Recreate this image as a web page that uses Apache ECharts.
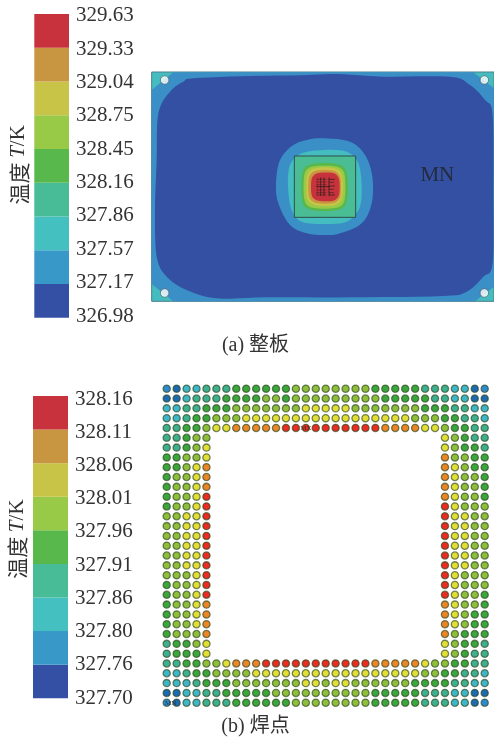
<!DOCTYPE html>
<html><head><meta charset="utf-8">
<style>html,body{margin:0;padding:0;background:#fff}#c{width:494px;height:737px}</style>
<script src="https://cdn.jsdelivr.net/npm/echarts@6/dist/echarts.min.js"></script>
</head><body><div id="c"></div>
<script>
// Colour-bar tick labels, top to bottom
var tickLabelsA = ['329.63','329.33','329.04','328.75','328.45','328.16','327.86','327.57','327.17','326.98'];
var tickLabelsB = ['328.16','328.11','328.06','328.01','327.96','327.91','327.86','327.80','327.76','327.70'];
var bandColors = ['#3450a4','#3898c8','#44c0c0','#48bc96','#58b84c','#98ca48','#c8c448','#c89640','#c8323c']; // cold to hot
var dotColors = ['#1d6ab2','#2e8bd0','#3fb6c8','#3fb08f','#3aa63c','#8fbe3a','#e2de36','#ec8525','#ea2c22'];
var bandSwatch = [1];
var solderTemps = [327.73,327.78,327.83,327.885,327.935,327.985,328.035,328.085,328.135]; // mid of each band

// Whole-board contours, in board units (outline of each temperature region)
var boardOutline = [[5,36],[1032,36],[1032,724],[5,724]];
var zoneBlueOuter = [[70,37],[970,37],[1032,85],[1032,680],[975,724],[70,724],[5,672],[5,90]];
var zoneDarkBlue = [[130,55],[300,48],[450,46],[560,42],[700,50],[900,50],[960,75],[1005,120],[1028,165],[1030,400],[1028,610],[1000,650],[950,695],[880,708],[600,712],[350,712],[200,715],[110,690],[50,650],[20,590],[15,450],[20,300],[25,160],[60,95],[100,65]];
var zoneBlueChip = [[523,235],[600,245],[645,285],[667,350],[665,430],[635,490],[570,520],[523,525],[470,520],[420,495],[385,430],[378,370],[390,300],[430,255],[480,238]];
var zoneCyanChip = [[523,270],[590,275],[625,310],[635,380],[628,445],[590,485],[523,492],[455,485],[425,450],[414,380],[420,315],[455,280]];
var zoneChipSquare = [[433,288],[617,288],[617,472],[433,472]];
var zoneGreen = [[500,310],[548,310],[580,320],[592,350],[592,412],[580,442],[548,452],[500,452],[467,442],[455,412],[455,350],[467,320]];
var zoneYellowGreen = [[500,318],[548,318],[575,327],[585,352],[585,410],[575,436],[548,445],[500,445],[472,436],[462,410],[462,352],[472,327]];
var zoneYellow = [[505,323],[545,323],[568,332],[578,355],[578,405],[568,428],[545,437],[505,437],[480,428],[470,405],[470,355],[480,332]];
var zoneOrange = [[505,331],[545,331],[563,339],[572,358],[572,403],[563,422],[545,430],[505,430],[485,422],[476,403],[476,358],[485,339]];
var zoneRed = [[510,338],[545,338],[560,345],[568,362],[568,400],[560,416],[545,423],[510,423],[492,416],[484,400],[484,362],[492,345]];
var boardHoles = [[44,60],[1003,60],[44,699],[1003,699]];
// Solder-mesh marks over the hot spot: x1,y1,x2,y2,alpha
var meshMarks = [[498,380,540,380,.9],[512,352,512,408,.85],[522,352,522,408,.85],[537,352,537,408,.95],
 [498,358,530,358,.5],[498,366,530,366,.5],[498,374,530,374,.45],[498,390,530,390,.5],[498,398,530,398,.5],[498,405,530,405,.5],
 [503,352,503,408,.35],[537,358,555,358,.8],[537,367,552,367,.7],[537,378,555,378,.8],[537,388,552,388,.7],[537,398,552,398,.7],[537,405,555,405,.8]];

// Solder-ball colour bands: outer rows (33 balls), then side columns (5 balls each)
var row0  = [1,0,2,2,3,3,3,4,4,4,4,4,4,5,5,5,5,5,5,5,5,4,4,4,4,4,3,3,3,2,2,0,1];
var row1  = [0,0,2,3,3,3,4,4,4,4,5,5,4,5,5,5,5,5,5,5,5,5,4,4,4,4,4,3,3,2,2,0,0];
var row2  = [2,2,3,3,4,4,4,5,5,5,5,5,5,5,6,6,6,6,6,5,5,5,5,5,5,5,4,4,4,3,3,2,2];
var row3  = [2,2,3,4,4,5,5,5,6,6,6,6,6,6,6,6,6,6,6,6,6,6,6,6,6,5,5,5,4,4,3,3,2];
var row4  = [3,3,4,4,5,6,6,7,7,7,7,7,8,8,8,8,8,8,8,8,8,8,7,7,7,7,6,6,5,4,4,3,3];
var row28 = [3,3,4,4,5,5,6,7,7,7,8,8,8,8,8,8,8,8,8,8,8,7,7,7,7,7,6,5,5,4,4,3,3];
var row29 = [2,2,3,4,4,5,5,5,5,6,6,6,6,6,6,6,6,6,6,6,6,6,6,6,6,6,5,5,4,4,3,3,2];
var row30 = [2,2,2,3,4,4,4,5,5,5,5,5,5,5,6,6,5,6,6,5,5,5,5,5,5,4,4,4,4,3,3,2,2];
var row31 = [0,0,2,2,3,3,4,4,4,4,4,5,5,5,5,5,5,5,5,5,5,4,4,4,4,4,3,3,3,2,2,0,0];
var row32 = [1,0,2,2,3,3,3,4,4,4,4,4,4,5,5,5,5,5,5,5,5,4,4,4,4,4,3,3,3,2,2,0,1];
var leftRows = [[3,3,4,5,5],[3,3,4,5,6],[4,4,5,5,6],[4,4,5,6,7],[4,5,5,6,7],[4,5,5,6,7],[4,5,5,6,8],[4,5,5,6,8],[5,5,6,6,8],[5,5,6,6,8],[5,5,6,6,8],[5,5,6,6,8],[5,5,6,6,8],[5,5,6,6,8],[5,5,5,6,8],[4,5,5,6,8],[4,5,5,6,8],[4,5,5,6,7],[4,5,5,6,7],[4,5,5,6,7],[4,5,5,5,7],[3,4,4,5,6],[3,4,4,4,6]];
var rightRows = [[6,5,4,3,3],[6,5,4,4,3],[7,5,5,4,4],[7,6,5,4,4],[7,6,5,5,4],[7,6,5,5,4],[7,6,5,5,4],[8,6,5,5,5],[8,6,6,5,5],[8,6,6,5,5],[8,6,6,5,5],[8,6,6,5,5],[8,6,6,5,5],[8,6,6,5,5],[8,6,5,5,5],[8,6,5,5,5],[8,6,5,5,4],[7,6,5,5,4],[7,6,5,4,4],[7,6,5,4,4],[7,5,4,4,4],[6,5,4,4,3],[6,5,4,3,3]];

var serif = '"Liberation Serif","Noto Sans CJK SC",serif';
var cjk = '"Noto Sans CJK SC","Liberation Serif",serif';
var textColor = '#333333';

var solderData = [];
function pushRow(cells, r, cStart){ cells.forEach(function(b,i){ solderData.push([cStart+i, r, solderTemps[b]]); }); }
[row0,row1,row2,row3,row4].forEach(function(c,i){ pushRow(c,i,0); });
leftRows.forEach(function(c,i){ pushRow(c,5+i,0); });
rightRows.forEach(function(c,i){ pushRow(c,5+i,28); });
[row28,row29,row30,row31,row32].forEach(function(c,i){ pushRow(c,28+i,0); });

var contourFill = [
 {pts:boardOutline, color:'#44bcc0', stroke:'#4d7f8c'},
 {pts:zoneBlueOuter, color:'#3a8fc6'},
 {pts:zoneDarkBlue, color:'#3350a3', curve:true},
 {pts:zoneBlueChip, color:'#3a8fc6', curve:true},
 {pts:zoneCyanChip, color:'#44bcc0', curve:true},
 {pts:zoneChipSquare, color:'#4abd94', stroke:'#2f4f48'},
 {pts:zoneGreen, color:'#58b84c', curve:true},
 {pts:zoneYellowGreen, color:'#98ca48', curve:true},
 {pts:zoneYellow, color:'#c8c448', curve:true},
 {pts:zoneOrange, color:'#c89640', curve:true},
 {pts:zoneRed, color:'#c8323c', curve:true}
];
// Closed curve through the read contour points (pixel space, after api.coord)
function closedCurve(p){
 var out=[],n=p.length;
 for(var i=0;i<n;i++){
  var a=p[(i-1+n)%n],b=p[i],c=p[(i+1)%n],d=p[(i+2)%n];
  for(var k=0;k<6;k++){
   var t=k/6,t2=t*t,t3=t2*t;
   out.push([
    .5*(2*b[0]+(c[0]-a[0])*t+(2*a[0]-5*b[0]+4*c[0]-d[0])*t2+(3*b[0]-a[0]-3*c[0]+d[0])*t3),
    .5*(2*b[1]+(c[1]-a[1])*t+(2*a[1]-5*b[1]+4*c[1]-d[1])*t2+(3*b[1]-a[1]-3*c[1]+d[1])*t3)
   ]);
  }
 }
 return out;
}

function hiddenX(i, min, max){ return {gridIndex:i,type:'value',min:min,max:max,show:false}; }

// grids: 0 bar a, 1 labels a, 2 board, 3 bar b, 4 labels b, 5 balls
var grid = [
 {left:34.3,top:14,width:34.7,height:303.7},
 {left:34.3,top:15.7,width:34.7,height:300.3},
 {left:150,top:60,width:344,height:250},
 {left:33,top:396,width:35,height:302.3},
 {left:33,top:399,width:35,height:299},
 {left:166.7,top:388.7,width:318,height:314}
];
function labelAxis(i, labels){
 return {gridIndex:i,type:'value',min:0,max:9,interval:1,position:'right',offset:7,
  axisLine:{show:false},axisTick:{show:false},splitLine:{show:false},
  axisLabel:{margin:0,fontFamily:serif,fontSize:21,color:textColor,formatter:function(v){return labels[9-v];}}};
}
function nameAxis(i, pad){
 return {gridIndex:i,type:'value',min:0,max:9,position:'left',
  axisLine:{show:false},axisTick:{show:false},splitLine:{show:false},axisLabel:{show:false},
  name:'{a|温度 }{b|T}{c|/K}',nameLocation:'middle',nameGap:5,nameRotate:90,
  nameTextStyle:{padding:[0,0,0,pad],rich:{a:{fontFamily:cjk,fontSize:21,color:textColor},
   b:{fontFamily:serif,fontSize:21,fontStyle:'italic',color:textColor},
   c:{fontFamily:serif,fontSize:21,color:textColor}}}};
}
var xAxis = [
 {gridIndex:0,type:'category',data:['T'],show:false},
 hiddenX(1,0,1),
 hiddenX(2,0,1032),
 {gridIndex:3,type:'category',data:['T'],show:false},
 hiddenX(4,0,1),
 hiddenX(5,0,32)
];
var yAxis = [
 {gridIndex:0,type:'value',min:0,max:9,show:false},
 labelAxis(1,tickLabelsA),
 {gridIndex:2,type:'value',min:0,max:750,inverse:true,show:false},
 {gridIndex:3,type:'value',min:0,max:9,show:false},
 labelAxis(4,tickLabelsB),
 {gridIndex:5,type:'value',min:0,max:32,inverse:true,show:false},
 nameAxis(0,2),
 nameAxis(3,16)
];

var series = [];
[[0,0],[3,3]].forEach(function(g){
 bandColors.forEach(function(col){
  series.push({type:'bar',xAxisIndex:g[0],yAxisIndex:g[1],stack:'s'+g[0],data:bandSwatch,barWidth:'100%',
   silent:true,itemStyle:{color:col},emphasis:{disabled:true}});
 });
});
[[1,1],[4,4]].forEach(function(g){
 series.push({type:'scatter',xAxisIndex:g[0],yAxisIndex:g[1],data:[],silent:true});
});
series.push({type:'custom',xAxisIndex:2,yAxisIndex:2,silent:true,clip:false,
 data:contourFill.map(function(c,i){return [i,i];}),
 renderItem:function(params,api){
  var c=contourFill[params.dataIndex];
  var pts=c.pts.map(function(p){return api.coord(p);});
  return {type:'polygon',shape:{points:c.curve?closedCurve(pts):pts},
   style:{fill:c.color,stroke:c.stroke||null,lineWidth:c.stroke?1:0}};
 }});
series.push({type:'custom',xAxisIndex:2,yAxisIndex:2,silent:true,clip:false,
 data:meshMarks.map(function(m){return [m[0],m[1],m[2],m[3],m[4]];}),
 renderItem:function(params,api){
  var a=api.coord([api.value(0),api.value(1)]),b=api.coord([api.value(2),api.value(3)]);
  return {type:'line',shape:{x1:a[0],y1:a[1],x2:b[0],y2:b[1]},style:{stroke:'#1c1c1c',lineWidth:.8,opacity:api.value(4)}};
 }});
series.push({type:'scatter',xAxisIndex:2,yAxisIndex:2,silent:true,data:boardHoles,symbolSize:8.5,
 itemStyle:{color:'#ffffff',borderColor:'#4b5a5c',borderWidth:.8}});
series.push({type:'scatter',xAxisIndex:2,yAxisIndex:2,silent:true,data:[[862,345]],symbolSize:0,
 label:{show:true,formatter:'MN',position:'inside',fontFamily:serif,fontSize:21,color:'#222222'}});
series.push({type:'scatter',name:'balls',xAxisIndex:5,yAxisIndex:5,silent:true,clip:false,data:solderData,symbolSize:7.2,
 itemStyle:{opacity:1,borderColor:'rgba(45,70,30,.65)',borderWidth:1.3}});
series.push({type:'scatter',xAxisIndex:5,yAxisIndex:5,silent:true,clip:false,
 data:[{value:[14,4],name:'MX'},{value:[0.4,32],name:'MN'}],symbolSize:0,
 label:{show:true,formatter:'{b}',position:'inside',fontFamily:serif,fontSize:7,color:'#222222'}});

var pieces = dotColors.map(function(c,i){
 return {min:i===0?327.6:(solderTemps[i-1]+solderTemps[i])/2, max:i===8?328.3:(solderTemps[i]+solderTemps[i+1])/2, color:c};
});
var ballIndex = series.findIndex(function(s){return s.name==='balls';});

var chart = echarts.init(document.getElementById('c'),null,{renderer:'canvas'});
chart.setOption({
 animation:false,
 backgroundColor:'#ffffff',
 grid:grid,xAxis:xAxis,yAxis:yAxis,series:series,
 visualMap:{show:false,type:'piecewise',dimension:2,seriesIndex:ballIndex,pieces:pieces},
 title:[
  {text:'(a) 整板',left:250.5,top:331,textAlign:'center',textStyle:{fontFamily:serif,fontSize:20,fontWeight:'normal',color:textColor}},
  {text:'(b) 焊点',left:250.5,top:712,textAlign:'center',textStyle:{fontFamily:serif,fontSize:20,fontWeight:'normal',color:textColor}}
 ]
});
</script></body></html>
